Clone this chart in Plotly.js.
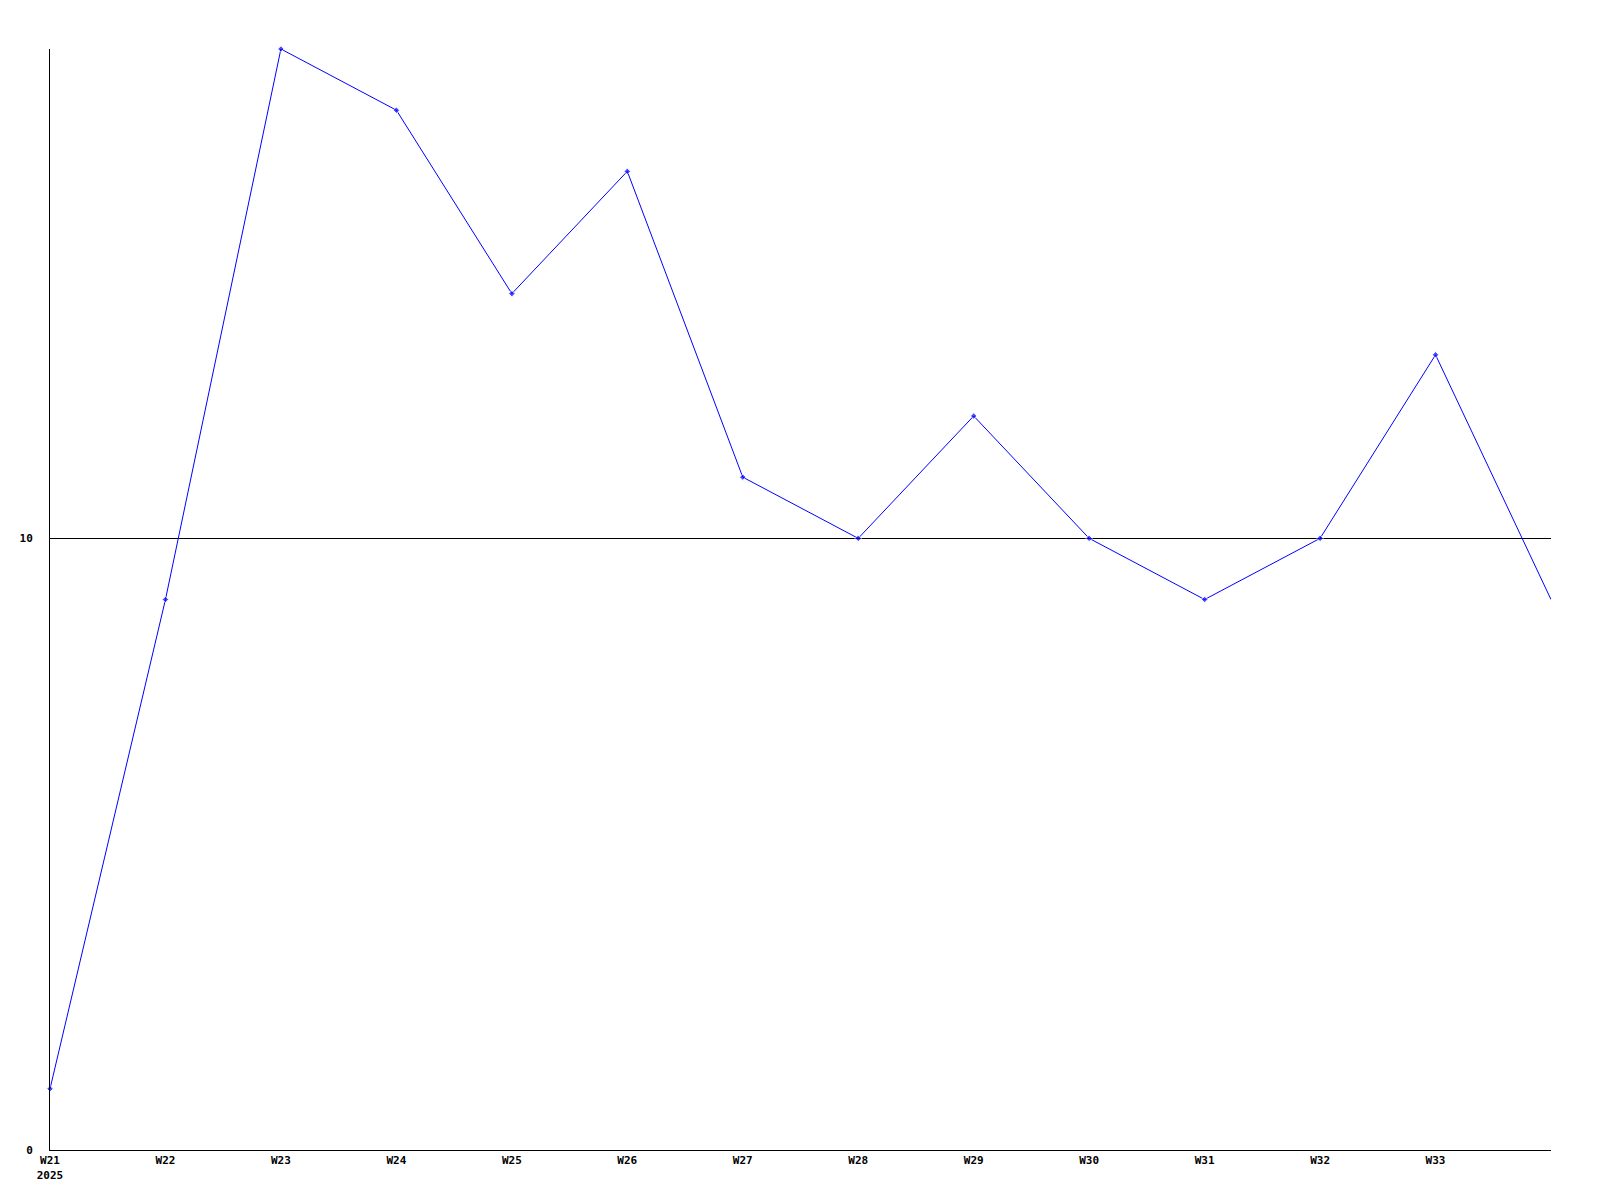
<!DOCTYPE html>
<html>
<head>
<meta charset="utf-8">
<script src="https://cdn.plot.ly/plotly-3.0.1.min.js"></script>
<style>html,body{margin:0;padding:0;background:#fff;}#chart{width:1600px;height:1200px;}</style>
</head>
<body>
<div id="chart"></div>
<script>
const weeks = [21, 22, 23, 24, 25, 26, 27, 28, 29, 30, 31, 32, 33, 34];
const values = [1, 9, 18, 17, 14, 16, 11, 10, 12, 10, 9, 10, 13, 9];
const xTickVals = [21, 22, 23, 24, 25, 26, 27, 28, 29, 30, 31, 32, 33];
const xTickText = ['W21<br>2025', 'W22', 'W23', 'W24', 'W25', 'W26', 'W27', 'W28', 'W29', 'W30', 'W31', 'W32', 'W33'];
const yTickVals = [0, 10];
const yTickText = ['0', '10'];

const fnt = {family: 'DejaVu Sans Mono, monospace', size: 11, color: '#000', weight: 'bold'};

const trace = {
  x: weeks,
  y: values,
  type: 'scatter',
  mode: 'lines+markers',
  line: {color: '#0000ff', width: 1},
  marker: {color: '#0000ff', size: weeks.map((w, i) => i === weeks.length - 1 ? 0 : 5), symbol: 'diamond'},
  cliponaxis: false,
  hoverinfo: 'x+y'
};

const layout = {
  width: 1600,
  height: 1200,
  margin: {l: 50, r: 49, t: 49, b: 50},
  paper_bgcolor: '#fff',
  plot_bgcolor: '#fff',
  showlegend: false,
  font: fnt,
  xaxis: {
    range: [21, 34],
    tickvals: xTickVals,
    ticktext: xTickText,
    showgrid: false,
    zeroline: false,
    showline: true,
    linecolor: '#000',
    linewidth: 1,
    ticks: '',
    tickfont: fnt
  },
  yaxis: {
    range: [0, 18],
    tickvals: yTickVals,
    ticktext: yTickText,
    showgrid: true,
    gridcolor: '#000',
    gridwidth: 1,
    zeroline: false,
    showline: true,
    linecolor: '#000',
    linewidth: 1,
    ticks: '',
    ticklabelstandoff: 14,
    tickfont: fnt
  }
};

Plotly.newPlot('chart', [trace], layout, {displayModeBar: false, staticPlot: true});
</script>
</body>
</html>
